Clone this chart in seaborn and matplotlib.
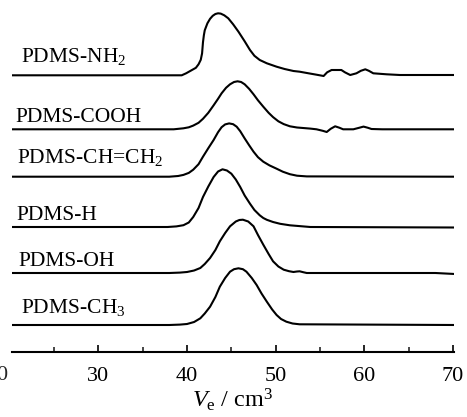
import numpy as np
import pandas as pd
import matplotlib
matplotlib.use("Agg")
import matplotlib.pyplot as plt
import seaborn as sns

# Elution volume traces (Ve in cm3, signal height)
labels = ["PDMS-NH$_2$", "PDMS-COOH", "PDMS-CH=CH$_2$", "PDMS-H", "PDMS-OH", "PDMS-CH$_3$"]
offsets = [276.7, 222.7, 175.3, 125.0, 79.0, 27.0]

nh2_ve = [20.0, 39.4, 39.9, 40.5, 41.0, 41.3, 41.55, 41.7, 41.8, 41.9, 42.0, 42.3, 42.6,
          42.9, 43.2, 43.5, 43.8, 44.2, 44.65, 45.2, 45.8, 46.5, 47.1, 47.6, 48.2, 49.0,
          50.1, 51.0, 52.0, 52.7, 53.7, 54.6, 55.4, 55.8, 56.3, 57.4, 57.8, 58.4, 59.1,
          59.6, 60.1, 60.5, 61.0, 62.5, 64.0, 70.2]
nh2_h = [0.0, 0.0, 2.0, 5.0, 7.5, 11.0, 15.5, 22.0, 33.0, 40.0, 45.0, 52.0, 56.5,
         59.5, 61.3, 62.0, 61.7, 60.0, 57.0, 51.0, 43.6, 34.0, 25.3, 19.5, 15.3, 12.0,
         8.6, 6.3, 4.3, 3.6, 2.0, 0.6, -0.7, 3.0, 5.3, 5.3, 3.0, 0.3, 2.0,
         4.5, 6.0, 4.5, 2.0, 1.0, 0.3, 0.3]

cooh_ve = [20.0, 38.5, 39.6, 40.2, 40.7, 41.3, 41.8, 42.4, 43.0, 43.5, 43.9, 44.4, 44.85,
           45.3, 45.7, 46.1, 46.5, 47.0, 47.5, 48.0, 48.6, 49.2, 49.7, 50.3, 50.9, 51.6,
           52.4, 53.9, 54.6, 55.3, 55.75, 56.2, 56.7, 57.2, 57.6, 58.75, 59.4, 59.9, 60.4,
           60.8, 62.0, 70.2]
cooh_h = [0.0, 0.0, 1.0, 2.0, 3.7, 6.5, 10.5, 16.5, 24.0, 30.5, 36.0, 41.5, 45.0,
          47.3, 48.0, 47.3, 45.0, 40.5, 35.0, 29.0, 22.6, 16.5, 12.2, 8.0, 5.2, 3.0,
          1.8, 0.7, 0.0, -1.5, -2.7, 0.5, 3.0, 1.5, 0.0, 0.0, 1.5, 2.7, 1.5,
          0.3, 0.0, 0.0]

vinyl_ve = [20.0, 38.0, 39.0, 39.6, 40.2, 40.7, 41.3, 41.8, 42.4, 43.0, 43.5, 43.9, 44.3,
            44.75, 45.2, 45.6, 46.0, 46.5, 47.0, 47.5, 48.0, 48.6, 49.3, 50.1, 50.8, 51.6,
            52.4, 53.5, 70.2]
vinyl_h = [0.0, 0.0, 0.7, 1.8, 3.8, 7.0, 12.5, 20.0, 28.5, 36.7, 44.5, 49.5, 52.3,
           53.3, 52.5, 50.0, 45.5, 38.3, 31.5, 25.0, 19.5, 15.0, 11.3, 8.0, 5.0, 2.5,
           1.0, 0.3, 0.0]

h_ve = [20.0, 37.8, 38.8, 39.6, 40.2, 40.7, 41.3, 41.8, 42.4, 43.0, 43.5, 44.0, 44.5,
        45.0, 45.5, 46.0, 46.5, 47.1, 47.6, 48.2, 48.6, 49.0, 49.7, 50.5, 51.6, 53.9, 70.2]
h_h = [0.0, 0.0, 0.6, 1.8, 4.5, 10.0, 19.0, 30.0, 40.5, 50.0, 55.5, 57.7, 56.5,
       53.3, 47.5, 40.0, 31.5, 23.3, 17.0, 11.7, 9.0, 7.2, 5.0, 3.2, 1.7, 0.0, -0.5]

oh_ve = [20.0, 38.0, 39.2, 40.0, 40.8, 41.5, 42.0, 42.6, 43.2, 43.7, 44.3, 44.85, 45.5,
         45.9, 46.3, 46.9, 47.5, 48.0, 48.6, 49.2, 49.7, 50.3, 50.9, 51.5, 52.0, 52.4,
         52.7, 53.1, 53.5, 60.0, 68.0, 70.2]
oh_h = [0.0, 0.0, 0.4, 1.0, 2.5, 5.0, 9.0, 15.0, 23.0, 31.7, 40.0, 46.7, 51.5,
        53.0, 53.3, 51.5, 46.7, 38.0, 28.3, 19.0, 11.7, 6.5, 3.3, 1.8, 1.0, 1.5,
        1.7, 0.8, 0.0, 0.0, 0.0, -1.0]

ch3_ve = [20.0, 38.0, 39.2, 40.0, 40.8, 41.5, 42.0, 42.6, 43.2, 43.7, 44.3, 44.85, 45.3,
          45.8, 46.3, 46.7, 47.3, 47.85, 48.4, 49.0, 49.6, 50.1, 50.6, 51.2, 51.9, 52.7,
          70.2]
ch3_h = [0.0, 0.0, 0.4, 1.0, 3.0, 6.7, 11.5, 18.3, 28.0, 38.3, 47.0, 53.3, 55.8,
         56.7, 55.8, 53.3, 47.0, 40.0, 31.5, 23.3, 15.5, 10.0, 6.0, 3.3, 1.5, 0.7,
         0.0]

traces = [(nh2_ve, nh2_h), (cooh_ve, cooh_h), (vinyl_ve, vinyl_h),
          (h_ve, h_h), (oh_ve, oh_h), (ch3_ve, ch3_h)]

# label anchor positions (Ve, height) in data units
label_x = [21.3, 20.7, 20.8, 20.8, 21.0, 21.3]
label_y = [290.0, 230.5, 189.0, 131.5, 85.5, 39.0]

sns.set_theme(style="ticks")
plt.rcParams['font.family'] = ['Liberation Serif', 'DejaVu Serif']
plt.rcParams['mathtext.fontset'] = 'custom'
plt.rcParams['mathtext.rm'] = 'Liberation Serif'
plt.rcParams['mathtext.it'] = 'Liberation Serif:italic'

fig = plt.figure(figsize=(4.67, 4.17), dpi=100)
ax = fig.add_axes([12 / 467, 65 / 417, 442 / 467, 352 / 417])

for (ve, h), off in zip(traces, offsets):
    df = pd.DataFrame({"Ve": ve, "y": np.array(h) + off})
    sns.lineplot(data=df, x="Ve", y="y", ax=ax, color="black", lw=1.5,
                 sort=False, estimator=None)

for lab, lx, ly in zip(labels, label_x, label_y):
    ax.text(lx, ly, lab, fontsize=15.5, ha="left", va="baseline", color="black")

ax.set_xlim(20.27, 70.1)
ax.set_ylim(0, 352)
ax.set_xticks([30, 40, 50, 60, 70])
ax.set_xticks([25, 35, 45, 55, 65], minor=True)
ax.tick_params(axis="x", which="major", direction="in", length=5, width=1.2,
               labelsize=16, pad=11, colors="black")
ax.tick_params(axis="x", which="minor", direction="in", length=3.5, width=1.2)
ax.set_yticks([])
ax.set_ylabel("")
for s in ["left", "right", "top"]:
    ax.spines[s].set_visible(False)
ax.spines["bottom"].set_linewidth(1.5)
ax.spines["bottom"].set_color("black")
ax.set_xlabel(r"$V_{\mathrm{e}}$ / cm$^3$", fontsize=17.5, labelpad=0, color="black")

# cut-off tick label of 20 at the left edge
fig.text(2 / 467, 1 - 375 / 417, "0", fontsize=16, ha="center", va="center")

fig.savefig("out.png", dpi=100)
